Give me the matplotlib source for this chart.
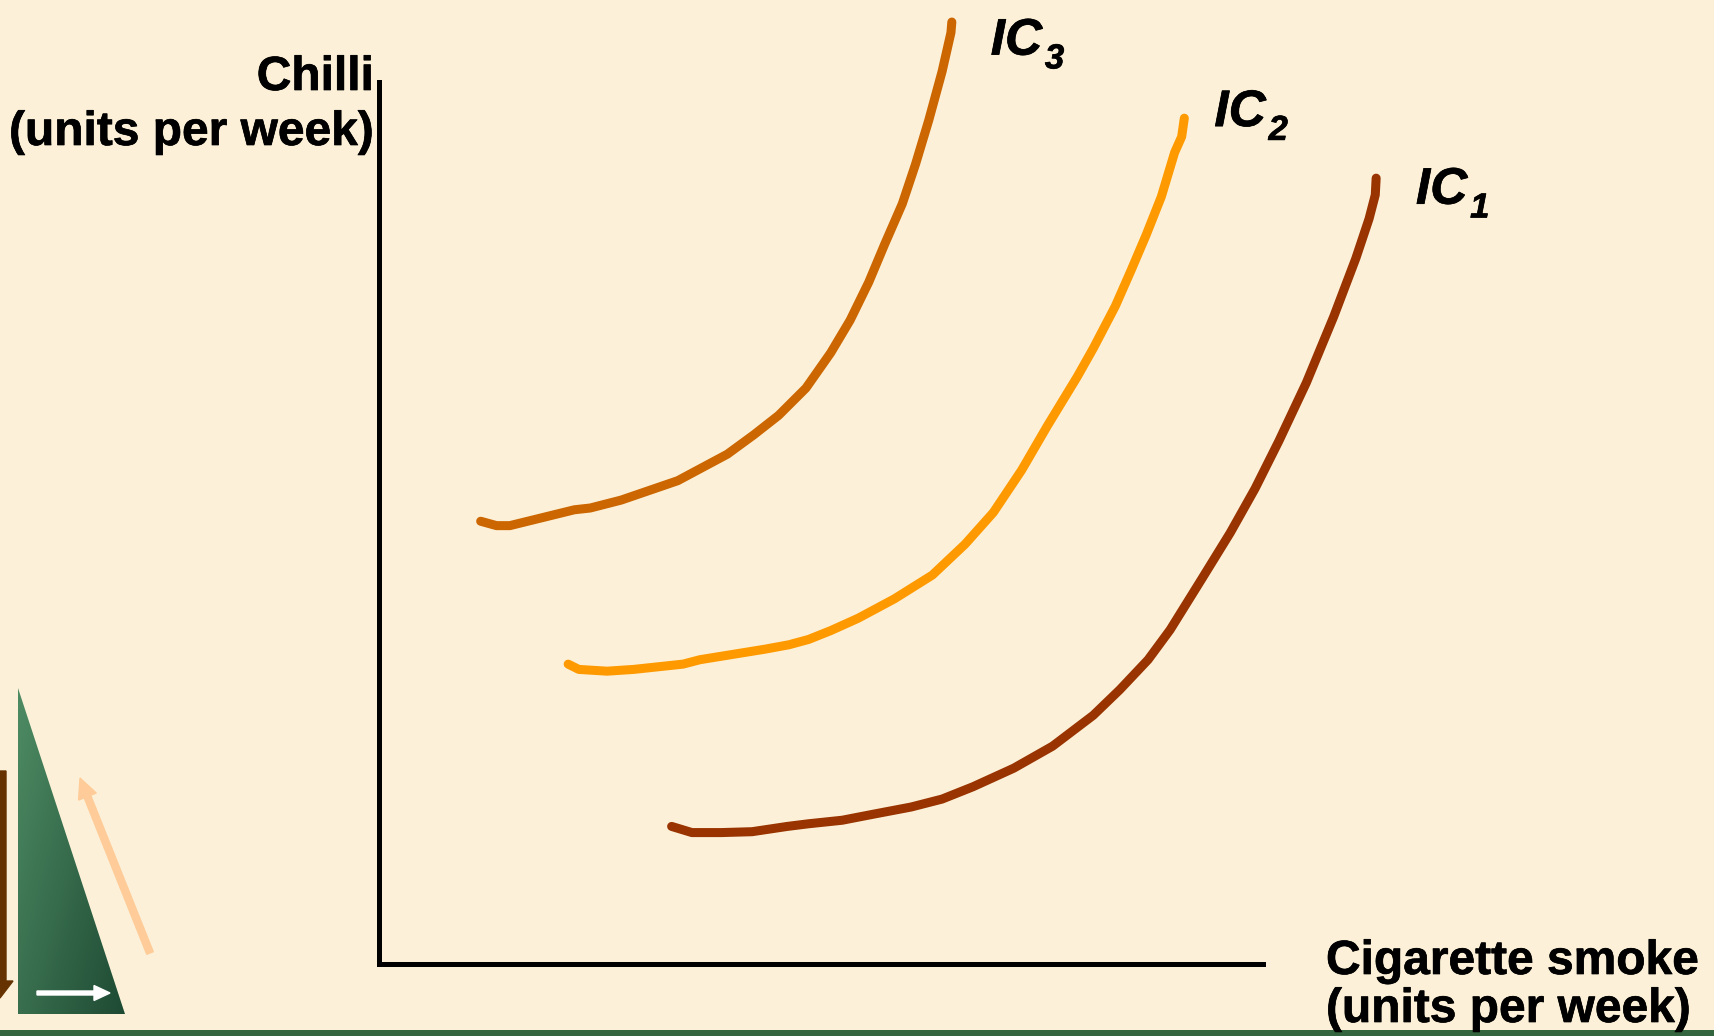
import numpy as np
import matplotlib
matplotlib.use("Agg")
import matplotlib.pyplot as plt
import matplotlib.patheffects as pe
from matplotlib.patches import Polygon, FancyArrow, Rectangle

plt.rcParams['font.family'] = ['Liberation Sans', 'DejaVu Sans']

# Indifference curves: cigarette smoke (x) vs chilli (y), units per week
ic3_x = [1.15, 1.33, 1.48, 2.21, 2.39, 2.74, 3.38, 3.94, 4.24, 4.52, 4.83, 5.11,
         5.33, 5.54, 5.72, 5.92, 6.07, 6.22, 6.37, 6.47, 6.48]
ic3_y = [5.02, 4.97, 4.97, 5.15, 5.17, 5.26, 5.48, 5.78, 6.00, 6.22, 6.53, 6.93,
         7.30, 7.73, 8.16, 8.62, 9.07, 9.57, 10.12, 10.56, 10.68]

ic2_x = [2.14, 2.26, 2.58, 2.88, 3.44, 3.63, 4.37, 4.64, 4.86, 5.11, 5.42, 5.83,
         6.26, 6.63, 6.95, 7.27, 7.56, 7.90, 8.08, 8.33, 8.51, 8.68, 8.85, 9.00,
         9.08, 9.11]
ic2_y = [3.40, 3.34, 3.32, 3.34, 3.40, 3.45, 3.57, 3.62, 3.68, 3.78, 3.92, 4.14,
         4.41, 4.76, 5.12, 5.60, 6.10, 6.66, 6.98, 7.46, 7.87, 8.27, 8.70, 9.20,
         9.38, 9.59]

ic1_x = [3.31, 3.54, 3.87, 4.22, 4.62, 4.86, 5.24, 5.60, 6.02, 6.37, 6.72, 7.18,
         7.62, 8.08, 8.38, 8.70, 8.95, 9.31, 9.63, 9.91, 10.18, 10.49, 10.80,
         11.05, 11.20, 11.27, 11.28]
ic1_y = [1.56, 1.49, 1.49, 1.50, 1.56, 1.59, 1.63, 1.70, 1.78, 1.87, 2.01, 2.22,
         2.47, 2.82, 3.11, 3.45, 3.79, 4.37, 4.89, 5.39, 5.93, 6.59, 7.34,
         8.00, 8.45, 8.72, 8.91]

curve_names = ["3", "2", "1"]
curve_colors = ["#CC6600", "#FF9900", "#993300"]
# label anchor for each curve name ("IC" left/baseline), in data units
label_pos = [(6.92, 10.31), (9.45, 9.50), (11.73, 8.62)]

x_title = ["Cigarette smoke", "(units per week)"]
y_title = ["Chilli", "(units per week)"]

BG = "#FCF1D8"
W, H = 1714, 1036
fig = plt.figure(figsize=(W / 100, H / 100), dpi=100, facecolor=BG)

# slightly heavier glyphs for the slide-style bold text
heavy = [pe.withStroke(linewidth=0.5, foreground="black")]

# full-figure layer for slide decorations, pixel units
deco = fig.add_axes([0, 0, 1, 1], zorder=0)
deco.set_xlim(0, W)
deco.set_ylim(H, 0)
deco.axis("off")
deco.set_facecolor(BG)

# green band along the bottom
deco.add_patch(Rectangle((0, 1030), W, 6, facecolor="#33663F", edgecolor="none"))

# shaded green triangle
tri = Polygon([(18, 688), (18, 1014), (125, 1014)], closed=True,
              facecolor="none", edgecolor="none")
deco.add_patch(tri)
gx, gy = np.meshgrid(np.linspace(0, 1, 200), np.linspace(0, 1, 200))
t = np.clip(0.55 * gx + 0.45 * gy, 0, 1)
c0 = np.array([0x4E, 0x8C, 0x64]) / 255
c1 = np.array([0x1E, 0x4A, 0x33]) / 255
grad = c0[None, None, :] * (1 - t[..., None]) + c1[None, None, :] * t[..., None]
im = deco.imshow(grad, extent=(18, 125, 1014, 688), origin="upper",
                 interpolation="bilinear", zorder=1)
im.set_clip_path(tri)
deco.set_xlim(0, W)
deco.set_ylim(H, 0)

# arrows around the triangle
deco.add_artist(FancyArrow(0, 771, 0, 227, width=12, head_width=26,
                           head_length=17, length_includes_head=True,
                           color="#663300", zorder=2))
deco.add_artist(FancyArrow(150, 953, -70, -175, width=7, head_width=19,
                           head_length=20, length_includes_head=True,
                           color="#FFCC99", zorder=2))
deco.add_artist(FancyArrow(37, 993, 73, 0, width=4, head_width=15,
                           head_length=16, length_includes_head=True,
                           color="white", zorder=3))

# main chart axes
ax = fig.add_axes([379 / W, (H - 964) / H, 884 / W, 882 / H], zorder=2)
ax.patch.set_alpha(0)
ax.set_xlim(0, 10)
ax.set_ylim(0, 10)
for s in ("top", "right"):
    ax.spines[s].set_visible(False)
for s in ("left", "bottom"):
    ax.spines[s].set_linewidth(3.6)
    ax.spines[s].set_color("black")
ax.set_xticks([])
ax.set_yticks([])

for xs, ys, col in zip([ic3_x, ic2_x, ic1_x], [ic3_y, ic2_y, ic1_y], curve_colors):
    ax.plot(xs, ys, color=col, lw=6.5, solid_capstyle="round",
            solid_joinstyle="round", clip_on=False)

for name, (lx, ly) in zip(curve_names, label_pos):
    main = ax.text(lx, ly, "IC", fontsize=37, fontweight="bold",
                   fontstyle="italic", ha="left", va="baseline", clip_on=False,
                   path_effects=heavy)
    ax.annotate(name, xy=(1, 0), xycoords=main, xytext=(2, -2),
                textcoords="offset points", fontsize=25, fontweight="bold",
                fontstyle="italic", ha="left", va="baseline",
                path_effects=heavy)

# axis titles
deco.text(374, 90, y_title[0], fontsize=34.5, fontweight="bold",
          ha="right", va="baseline", path_effects=heavy)
deco.text(374, 145, y_title[1], fontsize=34.5, fontweight="bold",
          ha="right", va="baseline", path_effects=heavy)
deco.text(1326, 974, x_title[0], fontsize=34.5, fontweight="bold",
          ha="left", va="baseline", path_effects=heavy)
deco.text(1326, 1022, x_title[1], fontsize=34.5, fontweight="bold",
          ha="left", va="baseline", path_effects=heavy)

fig.savefig("out.png", dpi=100, facecolor=BG)
